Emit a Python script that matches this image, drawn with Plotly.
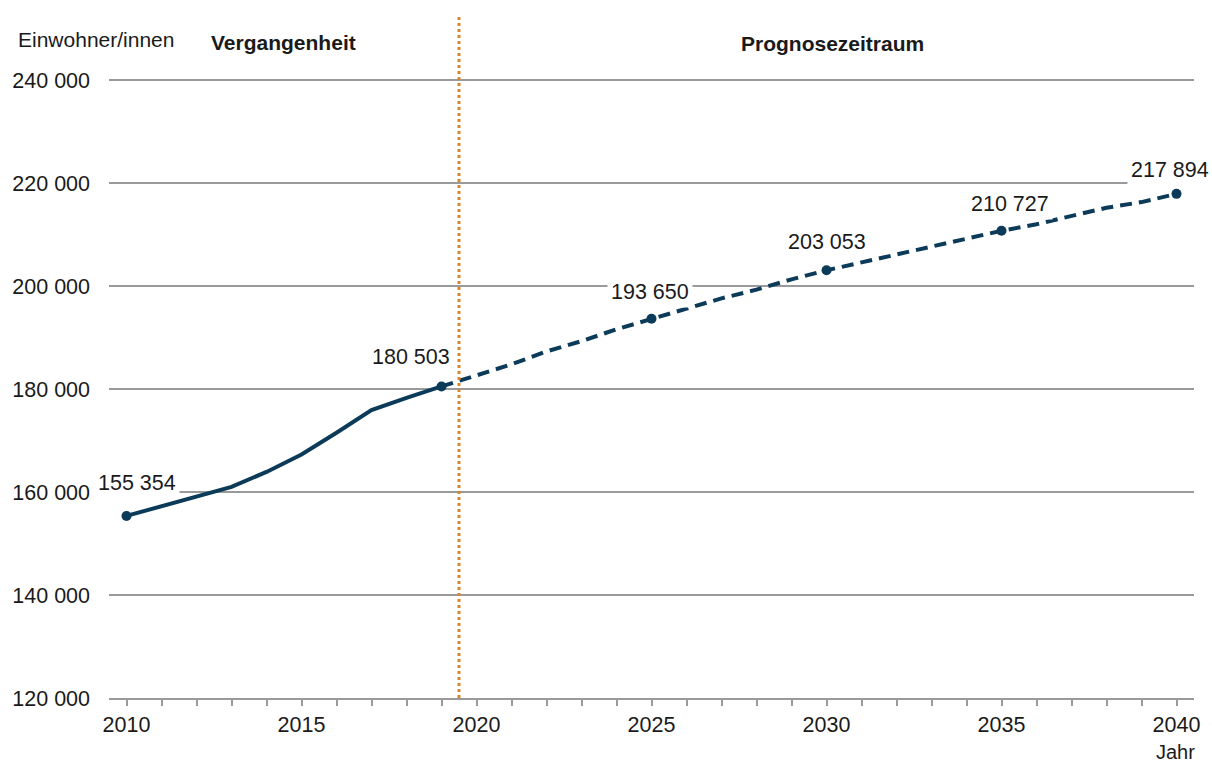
import plotly.graph_objects as go

years_past = [2010, 2011, 2012, 2013, 2014, 2015, 2016, 2017, 2018, 2019]
pop_past = [155354, 157300, 159200, 161000, 163900, 167300, 171500, 175900, 178300, 180503]

years_fc = [2019, 2020, 2021, 2022, 2023, 2024, 2025, 2026, 2027, 2028, 2029, 2030,
            2031, 2032, 2033, 2034, 2035, 2036, 2037, 2038, 2039, 2040]
pop_fc = [180503, 182700, 184800, 187300, 189300, 191600, 193650, 195700, 197600, 199300,
          201300, 203053, 204600, 206200, 207700, 209200, 210727, 212000, 213600, 215200,
          216300, 217894]

label_years = [2010, 2019, 2025, 2030, 2035, 2040]
label_values = [155354, 180503, 193650, 203053, 210727, 217894]
label_xshift = [10, -31, -2, 0, 8, -7]
label_yshift = [33, 29, 27, 28, 27, 24]

y_ticks = [120000, 140000, 160000, 180000, 200000, 220000, 240000]
x_ticks = [2010, 2015, 2020, 2025, 2030, 2035, 2040]


def fmt(v):
    return f"{v:,}".replace(",", " ")


LINE = "#0b3b58"
GRID = "#9a9a9a"
TXT = "#1a1a1a"
FONT = "Liberation Sans"
NUM = 21.5

fig = go.Figure()
fig.add_trace(go.Scatter(x=years_past, y=pop_past, mode="lines",
                         line=dict(color=LINE, width=4), showlegend=False))
fig.add_trace(go.Scatter(x=years_fc, y=pop_fc, mode="lines",
                         line=dict(color=LINE, width=4, dash="12px,7px"), showlegend=False))
fig.add_trace(go.Scatter(x=label_years, y=label_values, mode="markers",
                         marker=dict(color=LINE, size=10), showlegend=False))

for yr, v, xs, ys in zip(label_years, label_values, label_xshift, label_yshift):
    fig.add_annotation(x=yr, y=v, text=fmt(v), showarrow=False, xshift=xs, yshift=ys,
                       bgcolor="white", borderpad=3,
                       font=dict(family=FONT, size=NUM, color=TXT))

fig.add_shape(type="line", xref="x", yref="paper", x0=2019.5, x1=2019.5, y0=0, y1=1.105,
              line=dict(color="#d9862a", width=3, dash="dot"))

PW = 1088
PH = 619
fig.add_annotation(xref="paper", yref="paper", x=(14 - 107) / PW, y=(698 - 40) / PH,
                   xanchor="left", yanchor="middle",
                   text="Einwohner/innen", showarrow=False,
                   font=dict(family=FONT, size=21, color=TXT))
fig.add_annotation(xref="paper", yref="paper", x=(207 - 107) / PW, y=(698 - 42) / PH,
                   xanchor="left", yanchor="middle", text="<b>Vergangenheit</b>", showarrow=False,
                   font=dict(family=FONT, size=21, color=TXT))
fig.add_annotation(xref="paper", yref="paper", x=(832 - 107) / PW, y=(698 - 44) / PH,
                   xanchor="center", yanchor="middle", text="<b>Prognosezeitraum</b>",
                   showarrow=False, font=dict(family=FONT, size=21, color=TXT))
fig.add_annotation(xref="paper", yref="paper", x=(1176 - 107) / PW, y=-(752 - 698) / PH,
                   xanchor="center", yanchor="middle", text="Jahr", showarrow=False,
                   font=dict(family=FONT, size=20, color=TXT))

fig.update_layout(
    width=1212, height=765,
    margin=dict(l=107, r=17, t=79, b=67),
    plot_bgcolor="white", paper_bgcolor="white",
    font=dict(family=FONT, size=NUM, color=TXT),
)
fig.update_xaxes(range=[2009.5, 2040.5], tickvals=x_ticks, ticktext=[str(t) for t in x_ticks],
                 showgrid=False, zeroline=False, showline=True, linecolor=GRID, linewidth=1.5,
                 ticks="outside", ticklen=6, tickcolor=GRID, tickwidth=1.5,
                 minor=dict(dtick=1, tick0=2010, ticks="outside", ticklen=6, tickcolor=GRID,
                            tickwidth=1.5, showgrid=False),
                 tickfont=dict(family=FONT, size=NUM, color=TXT))
fig.update_yaxes(range=[120000, 240200], tickvals=y_ticks, ticktext=[fmt(t) for t in y_ticks],
                 showgrid=True, gridcolor=GRID, gridwidth=1.5, zeroline=False, showline=False,
                 ticks="", ticklabelstandoff=18,
                 tickfont=dict(family=FONT, size=NUM, color=TXT))

fig.write_html("out.html", config={"displayModeBar": False},
               post_script="document.body.style.margin='0';")
